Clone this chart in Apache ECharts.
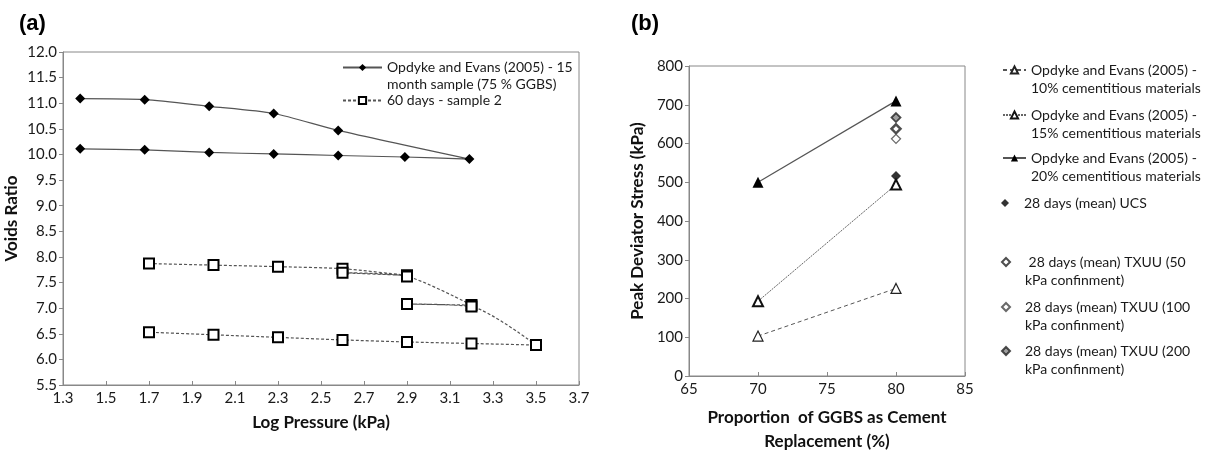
<!DOCTYPE html>
<html>
<head>
<meta charset="utf-8">
<script src="https://cdn.jsdelivr.net/npm/echarts@6/dist/echarts.min.js"></script>
<style>
    html, body { margin: 0; padding: 0; background: #fff; }
    #chart { width: 1213px; height: 451px; }
</style>
</head>
<body>
<div id="chart"></div>
<script>
    // (a) voids ratio vs log pressure
    var opdykeLogP  = [1.38, 1.68, 1.98, 2.28, 2.58, 3.19, 2.89, 2.58, 2.28, 1.98, 1.68, 1.38];
    var opdykeVoids = [11.09, 11.07, 10.94, 10.80, 10.47, 9.91, 9.95, 9.98, 10.01, 10.04, 10.09, 10.11];
    var sampleLogP  = [1.7, 2.0, 2.3, 2.6, 2.9, 2.6, 2.9, 3.2, 2.9, 3.2, 3.5, 3.2, 2.9, 2.6, 2.3, 2.0, 1.7];
    var sampleVoids = [7.87, 7.84, 7.81, 7.77, 7.64, 7.69, 7.62, 7.06, 7.08, 7.03, 6.28, 6.31, 6.34, 6.38, 6.43, 6.48, 6.53];

    // (b) peak deviator stress vs GGBS proportion
    var ggbs     = [70, 80];
    var oe10     = [103, 226];
    var oe15     = [193, 494];
    var oe20     = [500, 710];
    var ucsX     = [80];
    var ucs28    = [516];
    var txuu50   = [638];
    var txuu100  = [612];
    var txuu200  = [667];

    var nameA1 = 'Opdyke and Evans (2005) - 15 month sample (75 % GGBS)';
    var nameA2 = '60 days - sample 2';
    var nameB = [
        'Opdyke and Evans (2005) - 10% cementitious materials',
        'Opdyke and Evans (2005) - 15% cementitious materials',
        'Opdyke and Evans (2005) - 20% cementitious materials',
        '28 days (mean) UCS',
        ' 28 days (mean) TXUU (50 kPa confinment)',
        '28 days (mean) TXUU (100 kPa confinment)',
        '28 days (mean) TXUU (200 kPa confinment)'
    ];
    var legendLines = {};
    legendLines[nameA1] = ['Opdyke and Evans (2005) - 15', 'month sample (75 % GGBS)'];
    legendLines[nameA2] = ['60 days - sample 2'];
    legendLines[nameB[0]] = ['Opdyke and Evans (2005) -', '10% cementitious materials'];
    legendLines[nameB[1]] = ['Opdyke and Evans (2005) -', '15% cementitious materials'];
    legendLines[nameB[2]] = ['Opdyke and Evans (2005) -', '20% cementitious materials'];
    legendLines[nameB[3]] = ['28 days (mean) UCS'];
    legendLines[nameB[4]] = [' 28 days (mean) TXUU (50', 'kPa confinment)'];
    legendLines[nameB[5]] = ['28 days (mean) TXUU (100', 'kPa confinment)'];
    legendLines[nameB[6]] = ['28 days (mean) TXUU (200', 'kPa confinment)'];

    function zip(xs, ys) {
        return xs.map(function (x, i) { return [x, ys[i]]; });
    }

    var FONT = 'Lato';
    var INK = '#1a1a1a';

    // one legend per entry so the icon sits on the first text line like Excel does
    function legendAt(name, left, top, w, h, lh, pad) {
        return {
            data: [name],
            left: left,
            top: top,
            itemWidth: w,
            itemHeight: h,
            selectedMode: false,
            textStyle: { fontFamily: FONT, fontSize: 14, color: INK, lineHeight: lh, padding: [0, 0, 0, pad || 0] },
            formatter: function (n) {
                var l = legendLines[n];
                return l.length > 1 ? ' \n' + l.join('\n') : l[0];
            }
        };
    }

    function valueAxis(idx, min, max, interval, digits, name, gap, extra) {
        var ax = {
            type: 'value',
            gridIndex: idx,
            min: min,
            max: max,
            interval: interval,
            name: name,
            nameLocation: 'middle',
            nameGap: gap,
            nameTextStyle: { fontFamily: FONT, fontSize: 17, fontWeight: 'bold', color: '#111', lineHeight: 24 },
            axisLine: { show: true, lineStyle: { color: '#888' } },
            axisTick: { show: true, length: 4, lineStyle: { color: '#888' } },
            axisLabel: {
                fontFamily: FONT, fontSize: 15, color: INK, margin: 6,
                formatter: function (v) { return v.toFixed(digits); }
            },
            splitLine: { show: false }
        };
        for (var k in extra) ax[k] = extra[k];
        return ax;
    }

    var insideTick = { axisTick: { show: true, inside: true, length: 4, lineStyle: { color: '#888' } } };

    var chart = echarts.init(document.getElementById('chart'));

    var option = {
        backgroundColor: '#fff',
        animation: false,
        title: [
            { text: '(a)', left: 14, top: 8, textStyle: { fontFamily: 'Liberation Sans', fontSize: 22, fontWeight: 'bold', color: '#000' } },
            { text: '(b)', left: 626, top: 8, textStyle: { fontFamily: 'Liberation Sans', fontSize: 22, fontWeight: 'bold', color: '#000' } }
        ],
        grid: [
            { left: 63, top: 52, width: 516, height: 333, show: true, borderColor: '#888', borderWidth: 1, outerBoundsMode: 'none' },
            { left: 689, top: 66, width: 276, height: 310, show: true, borderColor: '#888', borderWidth: 1, outerBoundsMode: 'none' }
        ],
        xAxis: [
            valueAxis(0, 1.3, 3.7, 0.2, 1, 'Log Pressure (kPa)', 15, insideTick),
            valueAxis(1, 65, 85, 5, 0, 'Proportion  of GGBS as Cement\nReplacement (%)', 30, insideTick)
        ],
        yAxis: [
            valueAxis(0, 5.5, 12, 0.5, 1, 'Voids Ratio', 38),
            valueAxis(1, 0, 800, 100, 0, 'Peak Deviator Stress (kPa)', 39)
        ],
        legend: [
            legendAt(nameA1, 337, 37, 39, 9, 17),
            legendAt(nameA2, 337, 87, 39, 9, 17),
            legendAt(nameB[0], 997, 38, 23, 9, 18),
            legendAt(nameB[1], 997, 83, 23, 9, 18),
            legendAt(nameB[2], 997, 126, 23, 9, 18),
            legendAt(nameB[3], 996, 189, 8, 8, 18, 10),
            legendAt(nameB[4], 996, 230, 8, 8, 18, 10),
            legendAt(nameB[5], 996, 275, 8, 8, 18, 10),
            legendAt(nameB[6], 996, 319, 8, 8, 18, 10)
        ],
        series: [
            {
                name: nameA1, type: 'line', xAxisIndex: 0, yAxisIndex: 0,
                data: zip(opdykeLogP, opdykeVoids), smooth: 0.25,
                symbol: 'diamond', symbolSize: 10,
                lineStyle: { color: '#555', width: 1.2 },
                itemStyle: { color: '#000' }
            },
            {
                name: nameA2, type: 'line', xAxisIndex: 0, yAxisIndex: 0,
                data: zip(sampleLogP, sampleVoids), smooth: 0.25,
                symbol: 'rect', symbolSize: 10,
                lineStyle: { color: '#555', width: 1.2, type: [3, 2] },
                itemStyle: { color: '#fff', borderColor: '#000', borderWidth: 2 }
            },
            {
                name: nameB[0], type: 'line', xAxisIndex: 1, yAxisIndex: 1,
                data: zip(ggbs, oe10),
                symbol: 'triangle', symbolSize: 10,
                lineStyle: { color: '#555', width: 1, type: [4, 3] },
                itemStyle: { color: '#fff', borderColor: '#222', borderWidth: 1.2 }
            },
            {
                name: nameB[1], type: 'line', xAxisIndex: 1, yAxisIndex: 1,
                data: zip(ggbs, oe15),
                symbol: 'triangle', symbolSize: 10,
                lineStyle: { color: '#666', width: 1, type: [2, 1] },
                itemStyle: { color: '#fff', borderColor: '#111', borderWidth: 2 }
            },
            {
                name: nameB[2], type: 'line', xAxisIndex: 1, yAxisIndex: 1,
                data: zip(ggbs, oe20),
                symbol: 'triangle', symbolSize: 11,
                lineStyle: { color: '#555', width: 1.2 },
                itemStyle: { color: '#000' }
            },
            {
                name: nameB[3], type: 'scatter', xAxisIndex: 1, yAxisIndex: 1,
                data: zip(ucsX, ucs28), symbol: 'diamond', symbolSize: 10,
                itemStyle: { color: '#000' }
            },
            {
                name: nameB[4], type: 'scatter', xAxisIndex: 1, yAxisIndex: 1,
                data: zip(ucsX, txuu50), symbol: 'diamond', symbolSize: 9,
                itemStyle: { color: '#fff', borderColor: '#222', borderWidth: 2.5 }
            },
            {
                name: nameB[5], type: 'scatter', xAxisIndex: 1, yAxisIndex: 1,
                data: zip(ucsX, txuu100), symbol: 'diamond', symbolSize: 9,
                itemStyle: { color: '#fff', borderColor: '#444', borderWidth: 1.3 }
            },
            {
                name: nameB[6], type: 'scatter', xAxisIndex: 1, yAxisIndex: 1,
                data: zip(ucsX, txuu200), symbol: 'diamond', symbolSize: 9,
                itemStyle: { color: '#888', borderColor: '#222', borderWidth: 1.8 }
            }
        ]
    };

    chart.setOption(option);
</script>
</body>
</html>
